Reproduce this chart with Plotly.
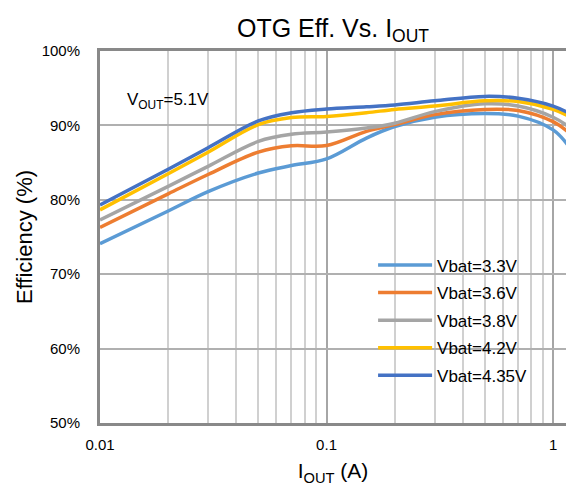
import plotly.graph_objects as go

# Output current (A)
iout = [0.01, 0.02, 0.03, 0.05, 0.07, 0.1, 0.15, 0.2, 0.3, 0.5, 0.7, 1.0, 1.2]

# Efficiency (%) per battery voltage
eff_33 = [74.1, 78.5, 81.1, 83.6, 84.6, 85.5, 88.3, 89.85, 91.1, 91.6, 91.25, 89.4, 86.8]
eff_36 = [76.3, 80.8, 83.4, 86.4, 87.25, 87.3, 89.2, 90.1, 91.45, 92.15, 92.0, 90.5, 88.8]
eff_38 = [77.3, 81.8, 84.5, 87.85, 88.8, 89.1, 89.65, 90.3, 91.85, 92.9, 92.6, 91.1, 89.6]
eff_42 = [78.65, 83.5, 86.4, 90.1, 91.05, 91.2, 91.7, 92.15, 92.6, 93.3, 93.2, 92.15, 91.1]
eff_435 = [79.3, 84.1, 87.0, 90.6, 91.7, 92.2, 92.5, 92.75, 93.3, 93.9, 93.65, 92.6, 91.5]

series_names = ["Vbat=3.3V", "Vbat=3.6V", "Vbat=3.8V", "Vbat=4.2V", "Vbat=4.35V"]
series_values = [eff_33, eff_36, eff_38, eff_42, eff_435]
series_colors = ["#5B9BD5", "#ED7D31", "#A5A5A5", "#FFC000", "#4472C4"]

x_tick_vals = [0.01, 0.1, 1]
x_tick_text = ["0.01", "0.1", "1"]
x_minor_vals = [k * 10.0 ** e for e in (-2, -1, 0) for k in range(2, 10)]

SANS = "Liberation Sans, Arial, sans-serif"

fig = go.Figure()
for name, vals, color in zip(series_names, series_values, series_colors):
    fig.add_trace(go.Scatter(
        x=iout, y=vals, name=name, legendgroup=name, mode="lines",
        line=dict(color=color, width=3.5, shape="spline", smoothing=1.0),
    ))

fig.update_layout(
    width=566, height=493,
    margin=dict(l=100, r=0, t=51, b=70),
    paper_bgcolor="white", plot_bgcolor="white",
    title=dict(
        text="OTG Eff. Vs. I<sub>OUT</sub>",
        x=0.5, xref="paper", xanchor="center",
        y=1 - 28 / 493, yref="container", yanchor="middle",
        font=dict(family=SANS, size=25, color="#000000"),
    ),
    showlegend=True,
    legend=dict(
        x=0.586, y=0.472, xanchor="left", yanchor="top",
        bgcolor="rgba(0,0,0,0)", borderwidth=0,
        font=dict(family=SANS, size=17, color="#000000"),
        itemwidth=54, tracegroupgap=2.5,
    ),
    annotations=[dict(
        text="V<sub>OUT</sub>=5.1V", xref="paper", yref="paper",
        x=0.054, y=0.866, xanchor="left", yanchor="middle", showarrow=False,
        font=dict(family=SANS, size=17, color="#000000"),
    )],
)

fig.update_xaxes(
    type="log", range=[-2, 0.057],
    tickvals=x_tick_vals, ticktext=x_tick_text,
    showline=True, linecolor="#898989", linewidth=3, mirror=True,
    showgrid=True, gridcolor="#A6A6A6", gridwidth=1.5,
    ticks="", ticklabelstandoff=6,
    tickfont=dict(family=SANS, size=15, color="#000000"),
    minor=dict(tickvals=x_minor_vals, showgrid=True, gridcolor="#D0D0D0", gridwidth=1.5, ticks=""),
    title=dict(text="I<sub>OUT</sub> (A)", font=dict(family=SANS, size=21, color="#000000"), standoff=12),
    zeroline=False,
)
fig.update_yaxes(
    range=[50, 100], dtick=10, ticksuffix="%",
    showline=True, linecolor="#898989", linewidth=3, mirror=False,
    showgrid=True, gridcolor="#B0B0B0", gridwidth=1.5,
    ticks="", ticklabelstandoff=14,
    tickfont=dict(family=SANS, size=15, color="#000000"),
    title=dict(text="Efficiency (%)", font=dict(family=SANS, size=22, color="#000000"), standoff=3),
    zeroline=False,
)

fig.write_html("out.html")
